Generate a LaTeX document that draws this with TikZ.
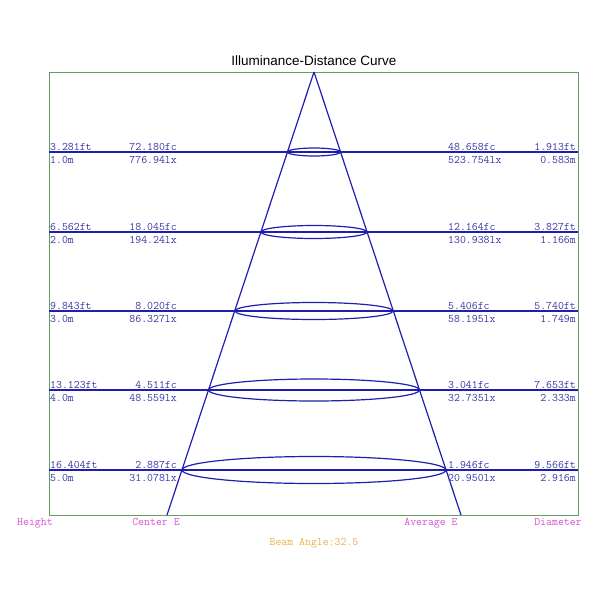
\documentclass[tikz,border=0pt]{standalone}
\usepackage{fontspec}
\usepackage{tikz}
\usetikzlibrary{shapes.geometric}
\newfontfamily\titlefont{Liberation Sans}
\definecolor{beamblue}{RGB}{30,30,175}
\definecolor{textblue}{RGB}{55,55,165}
\definecolor{framegreen}{RGB}{105,155,105}
\definecolor{labelpink}{RGB}{210,85,210}
\definecolor{angleorange}{RGB}{232,180,70}

\begin{document}
\begin{tikzpicture}[x=1pt,y=-1pt,
	beam/.style={draw=beamblue,line width=1.2pt},
	spot/.style={shape=ellipse,draw=beamblue,line width=1.2pt,inner sep=0pt},
	val/.style={text=textblue,inner sep=0pt,font=\ttfamily\fontsize{11.5}{11.5}\selectfont},
	axis/.style={text=labelpink,inner sep=0pt,anchor=base,font=\ttfamily\fontsize{11.5}{11.5}\selectfont}]
	
	\useasboundingbox (0,0) rectangle (600,600);
	
	\node[anchor=base,inner sep=0pt,font=\titlefont\fontsize{13.5}{13.5}\selectfont] (title) at (314,65) {Illuminance-Distance Curve};
	
	\coordinate (tl) at (49,72);
	\coordinate (br) at (578,515);
	\draw[draw=framegreen,line width=0.8pt] (tl) rectangle (br);
	
	\coordinate (apex) at (314,72);
	\coordinate (footL) at (167,515);
	\coordinate (footR) at (461,515);
	
	\coordinate (h1l) at (49,152);  \coordinate (h1r) at (578,152);
	\coordinate (h2l) at (49,232);  \coordinate (h2r) at (578,232);
	\coordinate (h3l) at (49,311);  \coordinate (h3r) at (578,311);
	\coordinate (h4l) at (49,390);  \coordinate (h4r) at (578,390);
	\coordinate (h5l) at (49,470);  \coordinate (h5r) at (578,470);
	
	\path[beam] (h1l) edge (h1r);
	\path[beam] (h2l) edge (h2r);
	\path[beam] (h3l) edge (h3r);
	\path[beam] (h4l) edge (h4r);
	\path[beam] (h5l) edge (h5r);
	\path[beam] (apex) edge (footL);
	\path[beam] (apex) edge (footR);
	
	\node[spot,minimum width=53,minimum height=8] (spot1) at (314,152) {};
	\node[spot,minimum width=106,minimum height=13] (spot2) at (314,232) {};
	\node[spot,minimum width=158,minimum height=17] (spot3) at (314,311) {};
	\node[spot,minimum width=211,minimum height=22] (spot4) at (314,390) {};
	\node[spot,minimum width=264,minimum height=27] (spot5) at (314,470) {};
	
	\node[val,anchor=base west] (ft1) at (50,150) {3.281ft};
	\node[val,anchor=base east] (fc1) at (177,150) {72.180fc};
	\node[val,anchor=base west] (afc1) at (448,150) {48.658fc};
	\node[val,anchor=base east] (dft1) at (576,150) {1.913ft};
	\node[val,anchor=base west] (m1) at (50,163) {1.0m};
	\node[val,anchor=base east] (lx1) at (177,163) {776.94lx};
	\node[val,anchor=base west] (alx1) at (448,163) {523.754lx};
	\node[val,anchor=base east] (dm1) at (576,163) {0.583m};
	
	\node[val,anchor=base west] (ft2) at (50,230) {6.562ft};
	\node[val,anchor=base east] (fc2) at (177,230) {18.045fc};
	\node[val,anchor=base west] (afc2) at (448,230) {12.164fc};
	\node[val,anchor=base east] (dft2) at (576,230) {3.827ft};
	\node[val,anchor=base west] (m2) at (50,243) {2.0m};
	\node[val,anchor=base east] (lx2) at (177,243) {194.24lx};
	\node[val,anchor=base west] (alx2) at (448,243) {130.938lx};
	\node[val,anchor=base east] (dm2) at (576,243) {1.166m};
	
	\node[val,anchor=base west] (ft3) at (50,309) {9.843ft};
	\node[val,anchor=base east] (fc3) at (177,309) {8.020fc};
	\node[val,anchor=base west] (afc3) at (448,309) {5.406fc};
	\node[val,anchor=base east] (dft3) at (576,309) {5.740ft};
	\node[val,anchor=base west] (m3) at (50,322) {3.0m};
	\node[val,anchor=base east] (lx3) at (177,322) {86.327lx};
	\node[val,anchor=base west] (alx3) at (448,322) {58.195lx};
	\node[val,anchor=base east] (dm3) at (576,322) {1.749m};
	
	\node[val,anchor=base west] (ft4) at (50,388) {13.123ft};
	\node[val,anchor=base east] (fc4) at (177,388) {4.511fc};
	\node[val,anchor=base west] (afc4) at (448,388) {3.041fc};
	\node[val,anchor=base east] (dft4) at (576,388) {7.653ft};
	\node[val,anchor=base west] (m4) at (50,401) {4.0m};
	\node[val,anchor=base east] (lx4) at (177,401) {48.559lx};
	\node[val,anchor=base west] (alx4) at (448,401) {32.735lx};
	\node[val,anchor=base east] (dm4) at (576,401) {2.333m};
	
	\node[val,anchor=base west] (ft5) at (50,468) {16.404ft};
	\node[val,anchor=base east] (fc5) at (177,468) {2.887fc};
	\node[val,anchor=base west] (afc5) at (448,468) {1.946fc};
	\node[val,anchor=base east] (dft5) at (576,468) {9.566ft};
	\node[val,anchor=base west] (m5) at (50,481) {5.0m};
	\node[val,anchor=base east] (lx5) at (177,481) {31.078lx};
	\node[val,anchor=base west] (alx5) at (448,481) {20.950lx};
	\node[val,anchor=base east] (dm5) at (576,481) {2.916m};
	
	\node[axis] (height) at (35,525) {Height};
	\node[axis] (center) at (156,525) {Center E};
	\node[axis] (average) at (431,525) {Average E};
	\node[axis] (diameter) at (558,525) {Diameter};
	\node[axis,text=angleorange] (angle) at (314,545) {Beam Angle:32.5};
	
\end{tikzpicture}
\end{document}
